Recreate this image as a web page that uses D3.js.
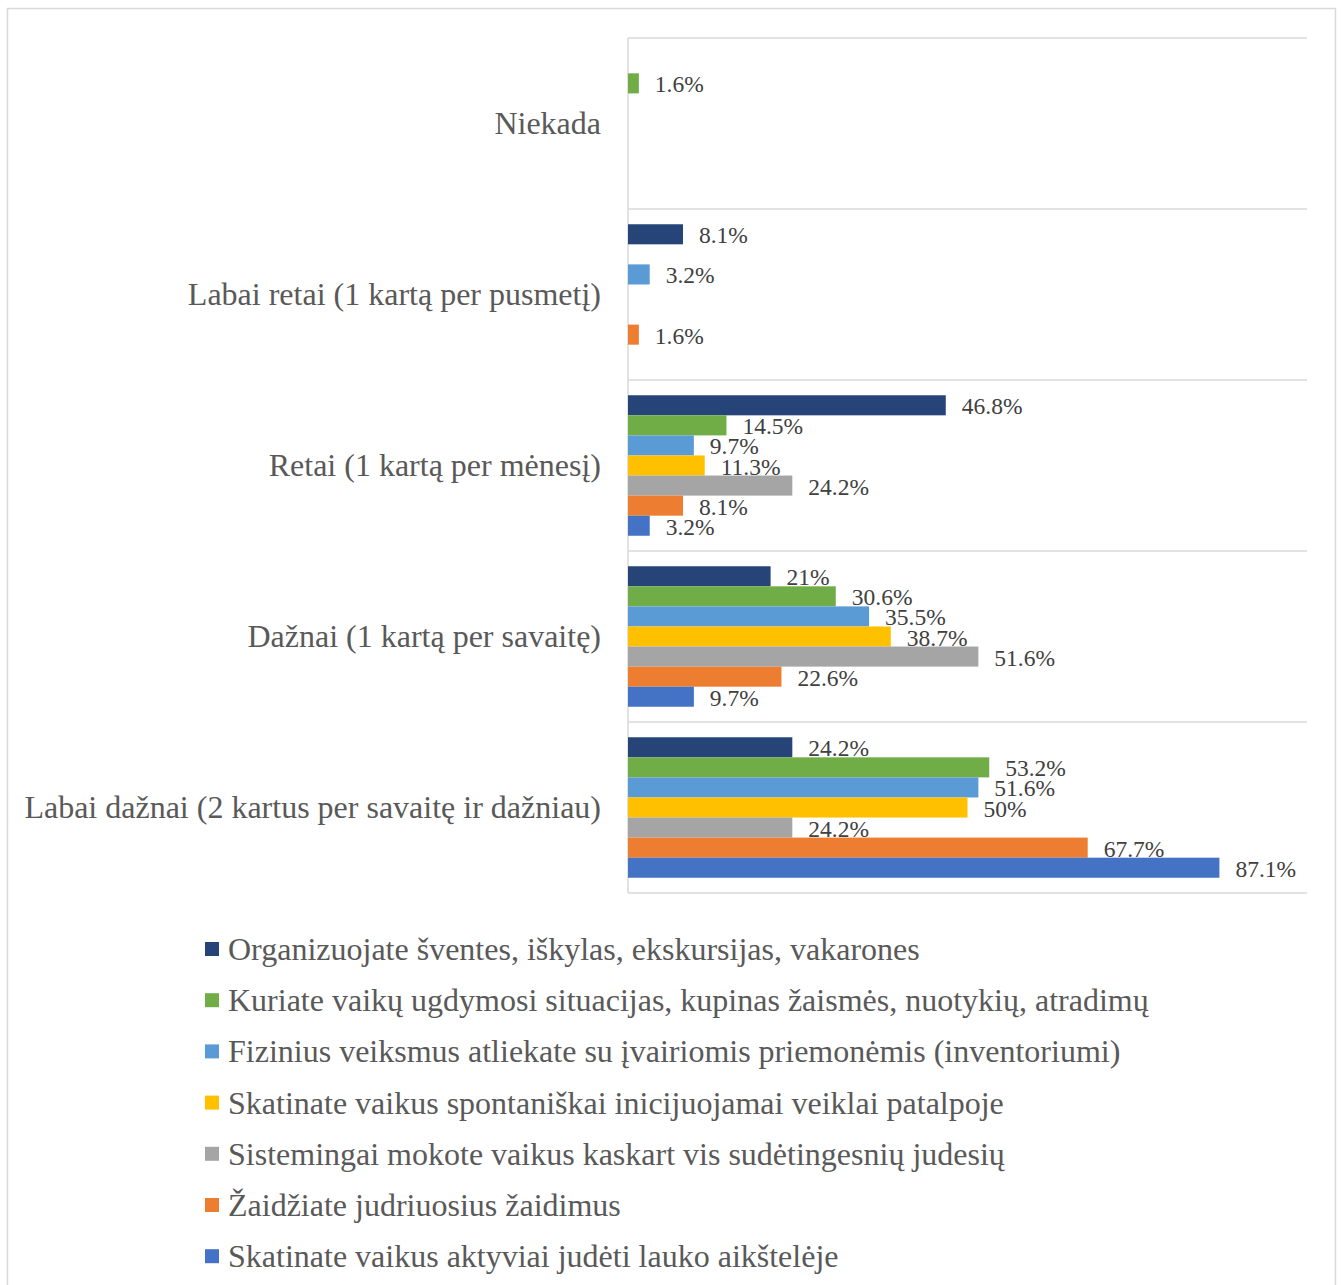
<!DOCTYPE html>
<html>
<head>
<meta charset="utf-8">
<script src="https://cdn.jsdelivr.net/npm/d3@7"></script>
<style>
  html, body { margin: 0; padding: 0; background: #fff; }
  svg { display: block; }
  text { font-family: "Liberation Serif", "Times New Roman", serif; }
</style>
</head>
<body>
<svg id="chart" width="1342" height="1285"></svg>
<script>
// Answer categories (top to bottom)
const categories = [
  "Niekada",
  "Labai retai (1 kartą per pusmetį)",
  "Retai (1 kartą per mėnesį)",
  "Dažnai (1 kartą per savaitę)",
  "Labai dažnai (2 kartus per savaitę ir dažniau)"
];

// Activity series (legend order)
const seriesNames = [
  "Organizuojate šventes, iškylas, ekskursijas, vakarones",
  "Kuriate vaikų ugdymosi situacijas, kupinas žaismės, nuotykių, atradimų",
  "Fizinius veiksmus atliekate su įvairiomis priemonėmis (inventoriumi)",
  "Skatinate vaikus spontaniškai inicijuojamai veiklai patalpoje",
  "Sistemingai mokote vaikus kaskart vis sudėtingesnių judesių",
  "Žaidžiate judriuosius žaidimus",
  "Skatinate vaikus aktyviai judėti lauko aikštelėje"
];

const seriesColors = ["#264478", "#70AD47", "#5B9BD5", "#FFC000", "#A5A5A5", "#ED7D31", "#4472C4"];

// Percent values per series, one entry per category (null = no answer)
const organizuojate = [null, 8.1, 46.8, 21, 24.2];
const kuriate       = [1.6, null, 14.5, 30.6, 53.2];
const fizinius      = [null, 3.2, 9.7, 35.5, 51.6];
const patalpoje     = [null, null, 11.3, 38.7, 50];
const sistemingai   = [null, null, 24.2, 51.6, 24.2];
const zaidziate     = [null, 1.6, 8.1, 22.6, 67.7];
const lauko         = [null, null, 3.2, 9.7, 87.1];

const seriesValues = [organizuojate, kuriate, fizinius, patalpoje, sistemingai, zaidziate, lauko];

const svg = d3.select("#chart");

// Outer chart frame
svg.append("rect")
  .attr("x", 7.5).attr("y", 8.5)
  .attr("width", 1328).attr("height", 1300)
  .attr("fill", "#fff")
  .attr("stroke", "#d9d9d9")
  .attr("stroke-width", 1.5);

const plot = { left: 628, right: 1307, top: 38, bottom: 893 };

const x = d3.scaleLinear().domain([0, 100]).range([plot.left, plot.right]);
const y0 = d3.scaleBand().domain(categories).range([plot.top, plot.bottom]).padding(0);
const y1 = d3.scaleBand().domain(d3.range(seriesNames.length))
  .range([0, y0.bandwidth()]).paddingInner(0).paddingOuter(0.76);

// Horizontal gridlines at category boundaries
const gridYs = categories.map(c => y0(c)).concat([plot.bottom]);
svg.append("g").selectAll("line").data(gridYs).join("line")
  .attr("x1", plot.left).attr("x2", plot.right)
  .attr("y1", d => d).attr("y2", d => d)
  .attr("stroke", "#d9d9d9").attr("stroke-width", 1.5);

// Category axis line
svg.append("line")
  .attr("x1", plot.left).attr("x2", plot.left)
  .attr("y1", plot.top).attr("y2", plot.bottom)
  .attr("stroke", "#d9d9d9").attr("stroke-width", 1.5);

// Category labels
const yAxis = d3.axisLeft(y0).tickSize(0).tickPadding(27);
const gAxis = svg.append("g").attr("transform", `translate(${plot.left},0)`).call(yAxis);
gAxis.select(".domain").remove();
gAxis.selectAll("text")
  .attr("font-family", "Liberation Serif, Times New Roman, serif")
  .attr("font-size", 32)
  .attr("fill", "#595959");

// Bars and value labels
const flat = [];
categories.forEach((c, ci) => {
  seriesValues.forEach((vals, si) => {
    if (vals[ci] != null) flat.push({ cat: c, s: si, v: vals[ci] });
  });
});

const gBars = svg.append("g");
gBars.selectAll("rect").data(flat).join("rect")
  .attr("x", x(0))
  .attr("y", d => y0(d.cat) + y1(d.s))
  .attr("width", d => x(d.v) - x(0))
  .attr("height", y1.bandwidth())
  .attr("fill", d => seriesColors[d.s]);

gBars.selectAll("text").data(flat).join("text")
  .attr("x", d => x(d.v) + 16)
  .attr("y", d => y0(d.cat) + y1(d.s) + y1.bandwidth() / 2 + 1)
  .attr("dominant-baseline", "central")
  .attr("font-size", 23.5)
  .attr("fill", "#404040")
  .text(d => d3.format("")(d.v) + "%");

// Legend
const legend = svg.append("g").attr("transform", "translate(205,949)");
const rows = legend.selectAll("g").data(seriesNames).join("g")
  .attr("transform", (d, i) => `translate(0,${i * 51.2})`);
rows.append("rect")
  .attr("x", 0).attr("y", -7).attr("width", 14).attr("height", 14)
  .attr("fill", (d, i) => seriesColors[i]);
rows.append("text")
  .attr("x", 23).attr("y", 0)
  .attr("dominant-baseline", "central")
  .attr("font-size", 32)
  .attr("fill", "#595959")
  .text(d => d);
</script>
</body>
</html>
